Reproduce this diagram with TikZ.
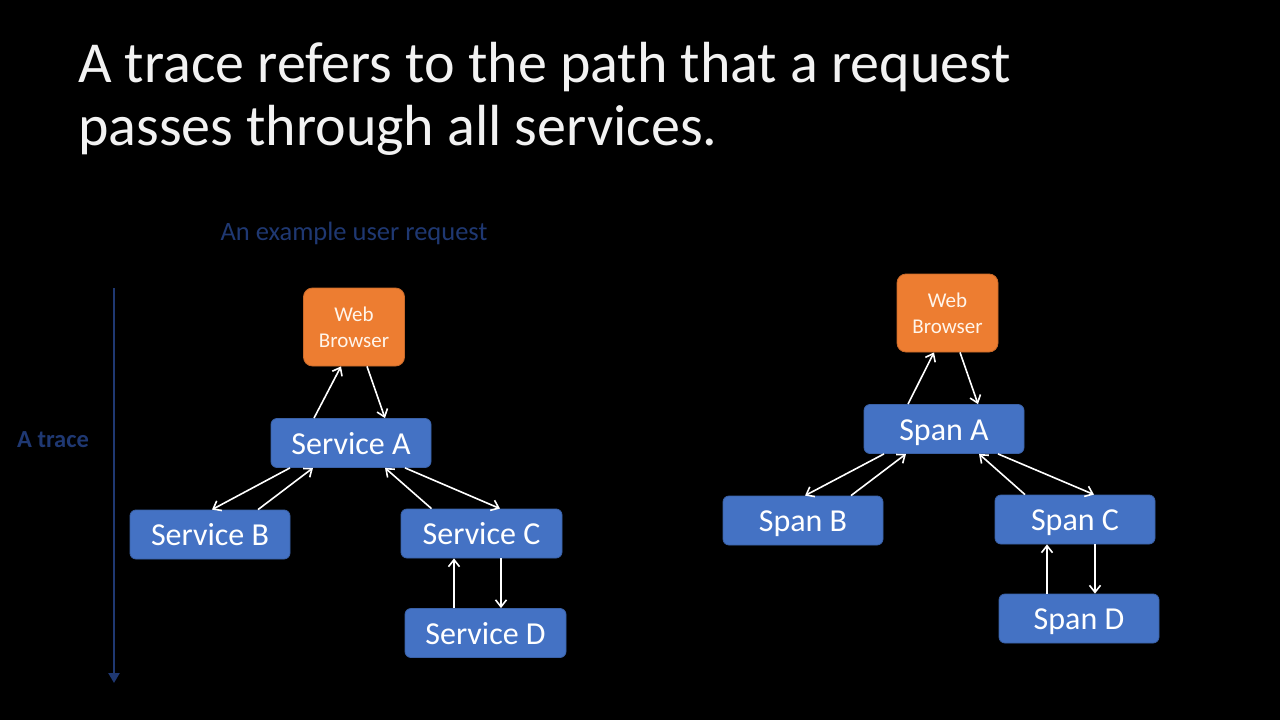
\documentclass[tikz,border=0pt]{standalone}
\usepackage{fontspec}
\setmainfont{Carlito}
\usetikzlibrary{arrows.meta}
\definecolor{obox}{HTML}{ED7D31}
\definecolor{bbox}{HTML}{4472C4}
\definecolor{navy}{HTML}{1F3872}
\definecolor{titlec}{HTML}{F2F2F2}
\tikzset{
  svc/.style={draw=bbox!85!black, line width=0.8pt, fill=bbox, rounded corners=6pt, minimum width=160pt, minimum height=49pt, inner sep=0pt, text=white, text height=22pt, text depth=0pt, font=\fontsize{32}{34}\selectfont},
  web/.style={draw=obox!85!black, line width=0.8pt, fill=obox, rounded corners=9pt, minimum width=101pt, minimum height=78pt, inner sep=0pt, text=white!92!orange, align=center, font=\fontsize{21}{26}\selectfont},
  arr/.style={draw=white, line width=1.6pt, -{Straight Barb[length=7pt,width=11pt,line width=1.6pt]}},
  titletext/.style={anchor=base west, text=titlec, inner sep=0pt, font=\fontsize{58}{63}\selectfont},
}
\begin{document}
\begin{tikzpicture}[x=1pt,y=-1pt]
\fill[black] (0,0) rectangle (1280,720);
\useasboundingbox (0,0) rectangle (1280,720);

\node[titletext] (t1) at (78,82) {A trace refers to the path that a request};
\node[titletext] (t2) at (78,145) {passes through all services.};

\node[text=navy, font=\fontsize{26.5}{28}\selectfont, inner sep=0pt] (ex) at (354,233) {An example user request};
\node[text=navy, font=\fontsize{24.5}{26}\selectfont\bfseries, inner sep=0pt] (tr) at (53,440) {A trace};
\coordinate (ttop) at (114,288);
\coordinate (tbot) at (114,683);
\draw[navy, line width=2.6pt, -{Triangle[length=10pt,width=11pt]}] (ttop) -- (tbot);

% left diagram
\node[web] (wb) at (354,327) {Web\\Browser};
\node[svc] (sa) at (351,443) {Service A};
\node[svc] (sb) at (210,534.5) {Service B};
\node[svc, minimum width=161pt] (sc) at (481.5,533.5) {Service C};
\node[svc, minimum width=161pt] (sd) at (485.5,633) {Service D};

\draw[arr] ([xshift=-37pt]sa.north) -- ([xshift=-13pt]wb.south);
\draw[arr] ([xshift=13pt]wb.south) -- ([xshift=34pt]sa.north);
\draw[arr] ([xshift=-61pt]sa.south) -- ([xshift=2pt]sb.north);
\draw[arr] ([xshift=48pt]sb.north) -- ([xshift=-38pt]sa.south);
\draw[arr] ([xshift=-50pt]sc.north) -- ([xshift=34pt]sa.south);
\draw[arr] ([xshift=54pt]sa.south) -- ([xshift=18.5pt]sc.north);
\draw[arr] ([xshift=-31.5pt]sd.north) -- ([xshift=-31.5pt]sd.north |- sc.south);
\draw[arr] ([xshift=19.5pt]sc.south) -- ([xshift=19.5pt]sc.south |- sd.north);

% right diagram
\node[web] (wb2) at (947.5,313) {Web\\Browser};
\node[svc] (pa) at (944,429) {Span A};
\node[svc] (pb) at (803,520.5) {Span B};
\node[svc] (pc) at (1075,519.5) {Span C};
\node[svc] (pd) at (1079,618.5) {Span D};

\draw[arr] ([xshift=-36pt]pa.north) -- ([xshift=-13.5pt]wb2.south);
\draw[arr] ([xshift=12.5pt]wb2.south) -- ([xshift=34pt]pa.north);
\draw[arr] ([xshift=-60pt]pa.south) -- ([xshift=2pt]pb.north);
\draw[arr] ([xshift=48pt]pb.north) -- ([xshift=-38pt]pa.south);
\draw[arr] ([xshift=-50pt]pc.north) -- ([xshift=35pt]pa.south);
\draw[arr] ([xshift=54pt]pa.south) -- ([xshift=19pt]pc.north);
\draw[arr] ([xshift=-32pt]pd.north) -- ([xshift=-32pt]pd.north |- pc.south);
\draw[arr] ([xshift=20pt]pc.south) -- ([xshift=20pt]pc.south |- pd.north);
\end{tikzpicture}
\end{document}
